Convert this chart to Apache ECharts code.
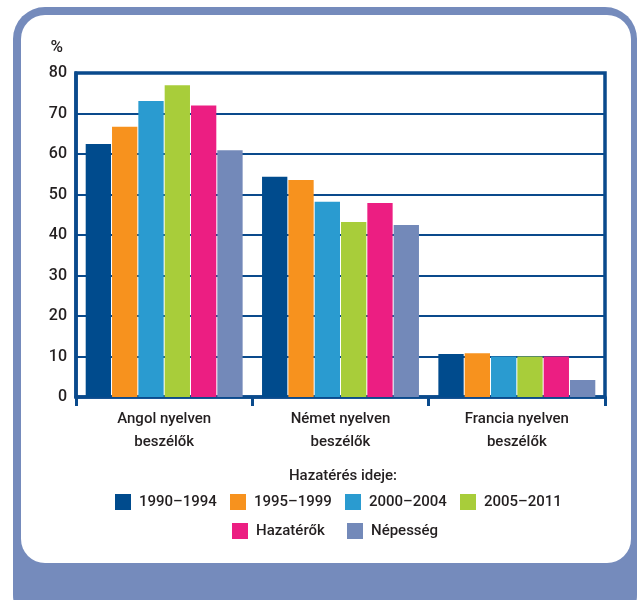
<!DOCTYPE html>
<html>
<head>
<meta charset="utf-8">
<script src="https://cdn.jsdelivr.net/npm/echarts@6/dist/echarts.min.js"></script>
<style>
html,body{margin:0;padding:0;background:#fff;}
#c{width:638px;height:600px;}
</style>
</head>
<body>
<div id="c"></div>
<script>
const categories = ['Angol nyelven\nbeszélők', 'Német nyelven\nbeszélők', 'Francia nyelven\nbeszélők'];
const seriesNames = ['1990–1994', '1995–1999', '2000–2004', '2005–2011', 'Hazatérők', 'Népesség'];
const v1990_1994 = [62.5, 54.4, 10.6];
const v1995_1999 = [66.7, 53.6, 10.8];
const v2000_2004 = [73.1, 48.2, 10.0];
const v2005_2011 = [77.0, 43.2, 10.0];
const vHazaterok = [72.0, 47.9, 10.0];
const vNepesseg  = [60.9, 42.5, 4.2];
const yTicks = [0, 10, 20, 30, 40, 50, 60, 70, 80];
const legendTitle = 'Hazatérés ideje:';
const yUnit = '%';

const allValues = [v1990_1994, v1995_1999, v2000_2004, v2005_2011, vHazaterok, vNepesseg];
const colors = ['#004b8d', '#f7921e', '#2a9bd0', '#a8cd3a', '#ec1e82', '#7389b9'];
const navy = '#0a4a8c';
const txt = '#231f20';
const FONT = 'Roboto, "Noto Sans", sans-serif';
const FW = 500;

const chart = echarts.init(document.getElementById('c'), null, {renderer: 'canvas'});
const series = seriesNames.map((n, i) => ({
  name: n,
  type: 'bar',
  data: allValues[i],
  barGap: '4%',
  barCategoryGap: '11%',
  itemStyle: {color: colors[i]},
  emphasis: {disabled: true},
  z: 3
}));

const legendCommon = {
  orient: 'horizontal',
  icon: 'rect',
  itemWidth: 16,
  itemHeight: 16,
  itemGap: 0,
  padding: 0,
  selectedMode: false,
  textStyle: {fontFamily: FONT, fontSize: 15, fontWeight: FW, color: txt, width: 91, padding: [0, 0, 0, 3], lineHeight: 16}
};

chart.setOption({
  animation: false,
  textStyle: {fontFamily: FONT},
  graphic: [
    {type: 'rect', z: -10, silent: true, shape: {x: 13, y: 7, width: 624, height: 620, r: 32}, style: {fill: '#758bbc'}},
    {type: 'rect', z: -9, silent: true, shape: {x: 21, y: 15, width: 610, height: 548, r: 24}, style: {fill: '#ffffff'}}
  ],
  title: {
    text: legendTitle,
    left: 343,
    textAlign: 'center',
    top: 469,
    padding: 0,
    textStyle: {fontFamily: FONT, fontSize: 15, fontWeight: FW, color: txt}
  },
  legend: [
    Object.assign({data: seriesNames.slice(0, 4), left: 115, top: 494}, legendCommon),
    Object.assign({data: seriesNames.slice(4), left: 232, top: 523}, legendCommon)
  ],
  grid: {
    left: 76, right: 33, top: 73, bottom: 203,
    show: true, borderColor: navy, borderWidth: 3.5, backgroundColor: 'transparent',
    containLabel: false
  },
  xAxis: {
    type: 'category',
    data: categories,
    axisLine: {lineStyle: {color: navy, width: 3.5}},
    axisTick: {show: true, length: 9, lineStyle: {color: navy, width: 3}},
    axisLabel: {fontFamily: FONT, fontSize: 15, fontWeight: FW, color: txt, lineHeight: 23, margin: 11}
  },
  yAxis: {
    type: 'value',
    min: 0, max: 80, interval: 10,
    name: yUnit,
    nameLocation: 'end',
    nameGap: 17,
    nameTextStyle: {fontFamily: FONT, fontSize: 17, fontWeight: FW, color: txt, align: 'right', padding: [0, 13, 0, 0]},
    axisLine: {show: true, lineStyle: {color: navy, width: 3.5}},
    axisTick: {show: false},
    splitLine: {lineStyle: {color: navy, width: 2}},
    axisLabel: {fontFamily: FONT, fontSize: 16, fontWeight: FW, color: txt, margin: 9,
      formatter: v => (yTicks.indexOf(v) >= 0 ? String(v) : '')}
  },
  series: series
});
</script>
</body>
</html>
